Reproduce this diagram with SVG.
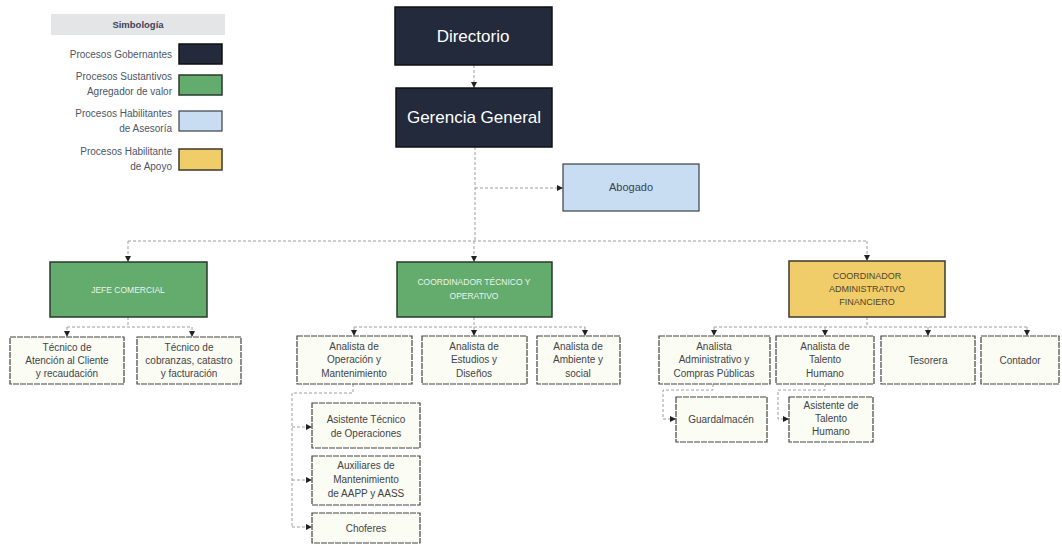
<svg xmlns="http://www.w3.org/2000/svg" width="1062" height="545" viewBox="0 0 1062 545">
<style>
text{font-family:"Liberation Sans",Arial,sans-serif;text-anchor:middle}
.gov{fill:#222a3b;stroke:#111;stroke-width:1.5}
.sus{fill:#64ab6e;stroke:#2a3a2c;stroke-width:1.5}
.ase{fill:#c8ddf1;stroke:#3a4048;stroke-width:1.2}
.apo{fill:#f0cd68;stroke:#3a3a30;stroke-width:1.5}
.leaf{fill:#fbfcf3;stroke:#444;stroke-width:1.2;stroke-dasharray:6 1}
.tw{fill:#ffffff;font-size:17px}
.th{fill:#eaf5e8;font-size:8.5px}
.tl{fill:#3f4448;font-size:10px}
.lg{fill:#4d5566;font-size:10px;text-anchor:end}
.con{fill:none;stroke:#9a9fa6;stroke-width:1;stroke-dasharray:3 2}
</style>
<defs>
<marker id="arr" viewBox="0 0 6 6" refX="6" refY="3" markerWidth="6" markerHeight="6" orient="auto" markerUnits="userSpaceOnUse">
<path d="M0,0 L6,3 L0,6 z" fill="#222"/>
</marker>
</defs>
<rect width="1062" height="545" fill="#ffffff"/>

<g id="legend">
<rect x="51" y="14" width="174" height="21" fill="#e4e5e7"/>
<text x="138" y="28" style="font-size:9.5px;font-weight:bold;fill:#3d4455">Simbología</text>
<text class="lg" x="172" y="58">Procesos Gobernantes</text>
<rect x="179" y="44" width="43" height="20" class="gov"/>
<text class="lg" x="172" y="80">Procesos Sustantivos</text>
<text class="lg" x="172" y="95">Agregador de valor</text>
<rect x="179" y="75" width="43" height="20" class="sus"/>
<text class="lg" x="172" y="117">Procesos Habilitantes</text>
<text class="lg" x="172" y="132">de Asesoría</text>
<rect x="179" y="111" width="43" height="20" class="ase"/>
<text class="lg" x="172" y="155">Procesos Habilitante</text>
<text class="lg" x="172" y="170">de Apoyo</text>
<rect x="179" y="149" width="43" height="21" class="apo"/>
</g>

<g id="connectors">
<path class="con" d="M474,65 V88" marker-end="url(#arr)"/>
<path class="con" d="M475,147 V241"/>
<path class="con" d="M475,188 H563" marker-end="url(#arr)"/>
<path class="con" d="M128,241 H867"/>
<path class="con" d="M128,241 V262" marker-end="url(#arr)"/>
<path class="con" d="M474,241 V262" marker-end="url(#arr)"/>
<path class="con" d="M867,241 V261" marker-end="url(#arr)"/>
<path class="con" d="M128,317 V327 M67,327 H192"/>
<path class="con" d="M67,327 V337" marker-end="url(#arr)"/>
<path class="con" d="M192,327 V337" marker-end="url(#arr)"/>
<path class="con" d="M474,317 V327 M354,327 H585"/>
<path class="con" d="M354,327 V336" marker-end="url(#arr)"/>
<path class="con" d="M474,327 V336" marker-end="url(#arr)"/>
<path class="con" d="M585,327 V336" marker-end="url(#arr)"/>
<path class="con" d="M867,317 V327 M714,327 H1027"/>
<path class="con" d="M714,327 V336" marker-end="url(#arr)"/>
<path class="con" d="M825,327 V336" marker-end="url(#arr)"/>
<path class="con" d="M928,327 V336" marker-end="url(#arr)"/>
<path class="con" d="M1027,327 V336" marker-end="url(#arr)"/>
<path class="con" d="M353,384 V393 H292 V527"/>
<path class="con" d="M292,427 H312" marker-end="url(#arr)"/>
<path class="con" d="M292,480 H312" marker-end="url(#arr)"/>
<path class="con" d="M292,527 H312" marker-end="url(#arr)"/>
<path class="con" d="M713,384 V390 H663 V419 H676" marker-end="url(#arr)"/>
<path class="con" d="M825,384 V390 H778 V419 H789" marker-end="url(#arr)"/>
</g>

<g id="directorio"><rect x="395" y="7" width="157" height="58" class="gov"/><text class="tw" x="473" y="42">Directorio</text></g>
<g id="gerencia"><rect x="396" y="88" width="156" height="59" class="gov"/><text class="tw" x="474" y="123">Gerencia General</text></g>
<g id="abogado"><rect x="563" y="164" width="136" height="47" class="ase"/><text x="631" y="191" style="font-size:11px;fill:#3a4250">Abogado</text></g>

<g id="jefe-comercial"><rect x="50" y="262" width="157" height="55" class="sus"/><text class="th" x="128" y="293">JEFE COMERCIAL</text></g>
<g id="coord-tecnico"><rect x="397" y="262" width="155" height="55" class="sus"/><text class="th" x="474" y="285">COORDINADOR TÉCNICO Y</text><text class="th" x="474" y="299">OPERATIVO</text></g>
<g id="coord-admin"><rect x="789" y="261" width="156" height="56" class="apo"/><text x="867" y="279" style="font-size:9px;fill:#4a4530">COORDINADOR</text><text x="867" y="292" style="font-size:9px;fill:#4a4530">ADMINISTRATIVO</text><text x="867" y="305" style="font-size:9px;fill:#4a4530">FINANCIERO</text></g>

<g id="tec-atencion"><rect x="10" y="337" width="114" height="47" class="leaf"/><text class="tl" x="67" y="351">Técnico de</text><text class="tl" x="67" y="364">Atención al Cliente</text><text class="tl" x="67" y="377">y recaudación</text></g>
<g id="tec-cobranzas"><rect x="137" y="337" width="104" height="47" class="leaf"/><text class="tl" x="189" y="351">Técnico de</text><text class="tl" x="189" y="364">cobranzas, catastro</text><text class="tl" x="189" y="377">y facturación</text></g>

<g id="an-operacion"><rect x="297" y="336" width="115" height="48" class="leaf"/><text class="tl" x="354" y="350">Analista de</text><text class="tl" x="354" y="363">Operación y</text><text class="tl" x="354" y="377">Mantenimiento</text></g>
<g id="an-estudios"><rect x="422" y="336" width="105" height="48" class="leaf"/><text class="tl" x="474" y="350">Analista de</text><text class="tl" x="474" y="363">Estudios y</text><text class="tl" x="474" y="377">Diseños</text></g>
<g id="an-ambiente"><rect x="537" y="336" width="83" height="48" class="leaf"/><text class="tl" x="578" y="350">Analista de</text><text class="tl" x="578" y="363">Ambiente y</text><text class="tl" x="578" y="377">social</text></g>

<g id="asistente-tecnico"><rect x="312" y="403" width="108" height="45" class="leaf"/><text class="tl" x="366" y="423">Asistente Técnico</text><text class="tl" x="366" y="437">de Operaciones</text></g>
<g id="auxiliares"><rect x="312" y="456" width="108" height="49" class="leaf"/><text class="tl" x="366" y="469">Auxiliares de</text><text class="tl" x="366" y="483">Mantenimiento</text><text class="tl" x="366" y="497">de AAPP y AASS</text></g>
<g id="choferes"><rect x="312" y="513" width="108" height="30" class="leaf"/><text class="tl" x="366" y="532">Choferes</text></g>

<g id="an-administrativo"><rect x="659" y="336" width="111" height="48" class="leaf"/><text class="tl" x="714" y="350">Analista</text><text class="tl" x="714" y="363">Administrativo y</text><text class="tl" x="714" y="377">Compras Públicas</text></g>
<g id="an-talento"><rect x="776" y="336" width="98" height="48" class="leaf"/><text class="tl" x="825" y="350">Analista de</text><text class="tl" x="825" y="363">Talento</text><text class="tl" x="825" y="377">Humano</text></g>
<g id="tesorera"><rect x="881" y="336" width="94" height="48" class="leaf"/><text class="tl" x="928" y="364">Tesorera</text></g>
<g id="contador"><rect x="981" y="336" width="78" height="48" class="leaf"/><text class="tl" x="1020" y="364">Contador</text></g>

<g id="guardalmacen"><rect x="676" y="397" width="91" height="45" class="leaf"/><text class="tl" x="721" y="423">Guardalmacén</text></g>
<g id="asistente-talento"><rect x="789" y="397" width="84" height="45" class="leaf"/><text class="tl" x="831" y="409">Asistente de</text><text class="tl" x="831" y="422">Talento</text><text class="tl" x="831" y="435">Humano</text></g>
</svg>
